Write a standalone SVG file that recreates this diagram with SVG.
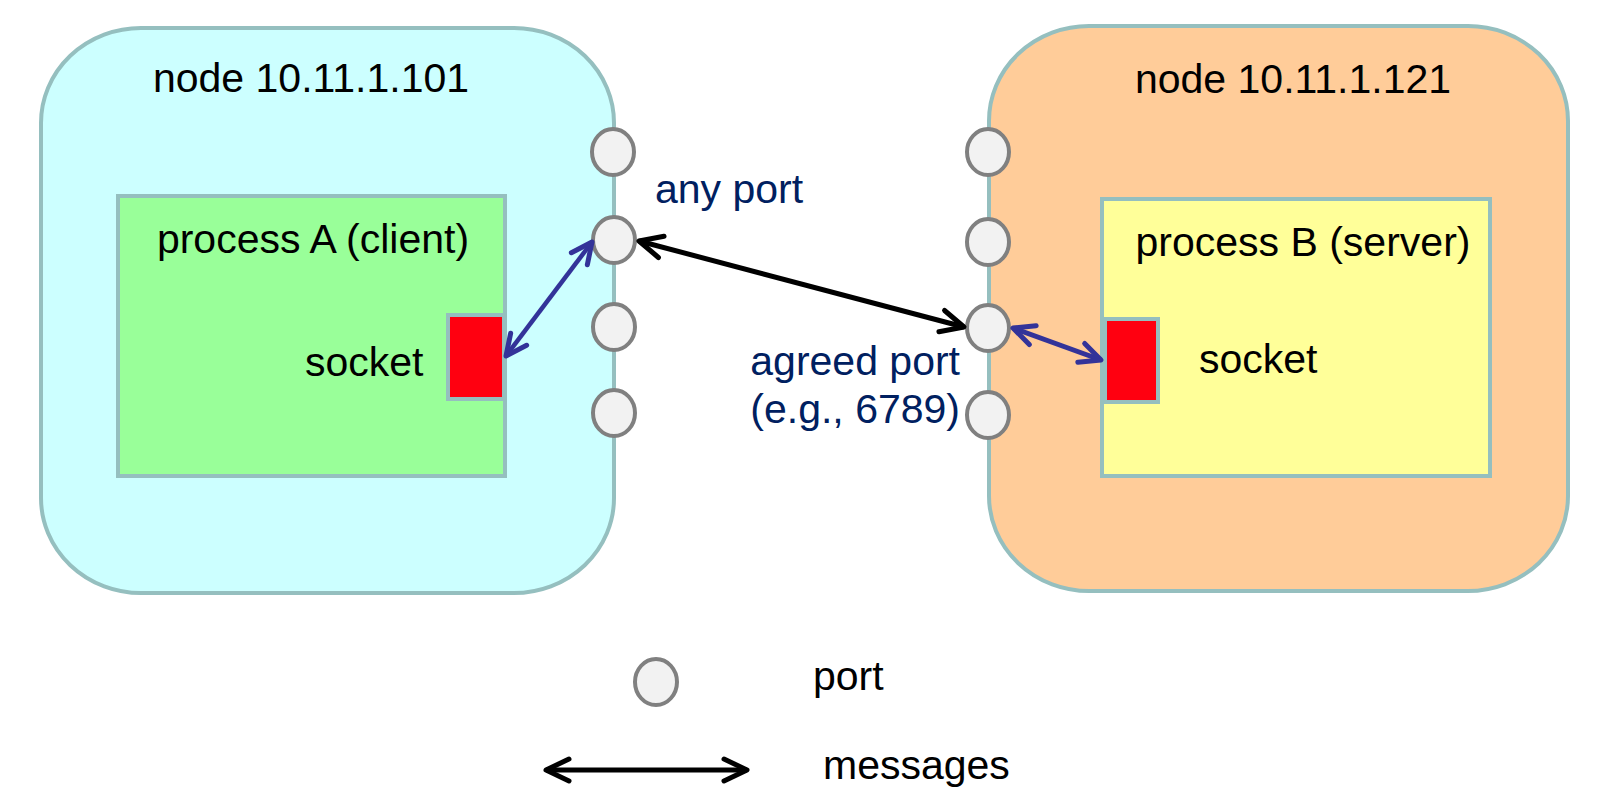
<svg xmlns="http://www.w3.org/2000/svg" width="1604" height="810" viewBox="0 0 1604 810">
<style>
.lbl{font-family:"Liberation Sans",Arial,sans-serif;font-size:41px;fill:#000}
.blue{font-family:"Liberation Sans",Arial,sans-serif;font-size:41px;fill:#002060}
.port{fill:#F2F2F2;stroke:#808080;stroke-width:4}
.bord{stroke:#95BFBF;stroke-width:4}
</style>
<defs>
<marker id="ahk" viewBox="-30 -20 40 40" markerWidth="40" markerHeight="40" refX="0" refY="0" orient="auto-start-reverse" markerUnits="userSpaceOnUse" overflow="visible">
<path d="M-23,-11 L0,0 L-23,11" fill="none" stroke="#000" stroke-width="5" stroke-linecap="round" stroke-linejoin="round"/>
</marker>
<marker id="ahb" viewBox="-30 -20 40 40" markerWidth="40" markerHeight="40" refX="0" refY="0" orient="auto-start-reverse" markerUnits="userSpaceOnUse" overflow="visible">
<path d="M-21,-10 L0,0 L-21,10" fill="none" stroke="#333399" stroke-width="5" stroke-linecap="round" stroke-linejoin="round"/>
</marker>
</defs>
<rect width="1604" height="810" fill="#fff"/>
<g id="nodeA">
<rect x="41" y="28" width="573" height="565" rx="100" ry="95" fill="#CCFFFF" class="bord"/>
<text class="lbl" x="311" y="92" text-anchor="middle">node 10.11.1.101</text>
</g>
<g id="nodeB">
<rect x="989" y="26" width="579" height="565" rx="100" ry="95" fill="#FFCC99" class="bord"/>
<text class="lbl" x="1293" y="93" text-anchor="middle">node 10.11.1.121</text>
</g>
<g id="processA">
<rect x="118" y="196" width="387" height="280" fill="#99FF99" class="bord"/>
<text class="lbl" x="313" y="253" text-anchor="middle">process A (client)</text>
<text class="lbl" x="305" y="376">socket</text>
</g>
<g id="socketA">
<rect x="448" y="315" width="56" height="84" fill="#FF0010" class="bord"/>
</g>
<g id="processB">
<rect x="1102" y="199" width="388" height="277" fill="#FFFF99" class="bord"/>
<text class="lbl" x="1303" y="256" text-anchor="middle">process B (server)</text>
<text class="lbl" x="1199" y="373">socket</text>
</g>
<g id="socketB">
<rect x="1105" y="319" width="53" height="83" fill="#FF0010" class="bord"/>
</g>
<g id="portsA">
<ellipse class="port" cx="613" cy="152" rx="21" ry="23"/>
<ellipse class="port" cx="614" cy="240" rx="21" ry="23"/>
<ellipse class="port" cx="614" cy="327" rx="21" ry="23"/>
<ellipse class="port" cx="614" cy="413" rx="21" ry="23"/>
</g>
<g id="portsB">
<ellipse class="port" cx="988" cy="152" rx="21" ry="23"/>
<ellipse class="port" cx="988" cy="242" rx="21" ry="23"/>
<ellipse class="port" cx="988" cy="328" rx="21" ry="23"/>
<ellipse class="port" cx="988" cy="415" rx="21" ry="23"/>
</g>
<g id="labels">
<text class="blue" x="655" y="203">any port</text>
<text class="blue" x="960" y="375" text-anchor="end">agreed port</text>
<text class="blue" x="960" y="423" text-anchor="end">(e.g., 6789)</text>
</g>
<g id="connectors">
<line x1="639" y1="241" x2="964" y2="327" stroke="#000" stroke-width="5" marker-start="url(#ahk)" marker-end="url(#ahk)"/>
<line x1="506" y1="356" x2="592" y2="242" stroke="#333399" stroke-width="4.5" marker-start="url(#ahb)" marker-end="url(#ahb)"/>
<line x1="1013" y1="328" x2="1101" y2="360" stroke="#333399" stroke-width="5" marker-start="url(#ahb)" marker-end="url(#ahb)"/>
</g>
<g id="legend">
<ellipse class="port" cx="656" cy="682" rx="21" ry="23"/>
<text class="lbl" x="813" y="690">port</text>
<line x1="546" y1="770" x2="747" y2="770" stroke="#000" stroke-width="5" marker-start="url(#ahk)" marker-end="url(#ahk)"/>
<text class="lbl" x="823" y="779">messages</text>
</g>
</svg>
